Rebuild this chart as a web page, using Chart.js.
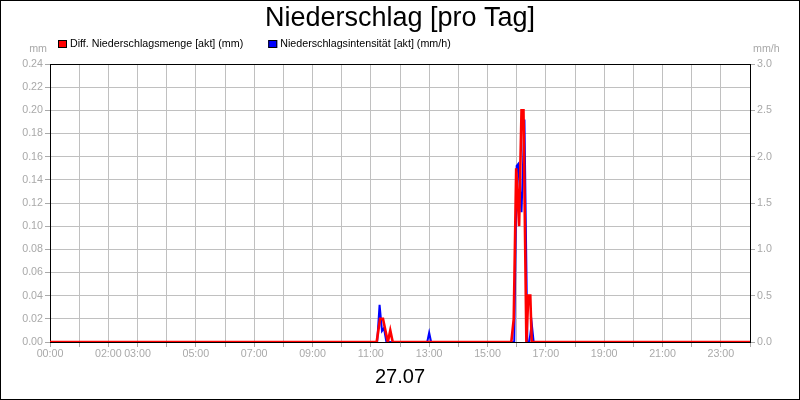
<!DOCTYPE html>
<html>
<head>
<meta charset="utf-8">
<script src="https://cdn.jsdelivr.net/npm/chart.js@4/dist/chart.umd.min.js"></script>
<style>
html, body { margin: 0; padding: 0; background: #fff; }
#rahmen { width: 800px; height: 400px; }
</style>
</head>
<body>
<div id="rahmen"><canvas id="graficaNiederschlag"></canvas></div>
<script>
var colorRojo = "#ff0000";
var colorAzul = "#0000ff";
var colorGris = "#a9a9a9";
var colorRejilla = "#c0c0c0";
var fuente = '"Liberation Sans", Arial, sans-serif';

var titulo = "Niederschlag [pro Tag]";
var fecha = "27.07";

// Minuten seit 00:00
var zeitMenge = [0, 672, 679, 685, 690, 695, 700, 705, 949, 954, 959, 965, 970, 974, 980, 984, 988, 991, 1440];
var werteMenge = [0, 0, 0.02, 0.02, 0.01, 0, 0.01, 0, 0, 0.02, 0.15, 0.10, 0.20, 0.20, 0, 0.04, 0.04, 0, 0];

var zeitIntensitaet = [0, 673, 678, 683, 687, 692, 776, 780, 784, 955, 960, 963, 970, 976, 982, 986, 991, 995, 1440];
var werteIntensitaet = [0, 0, 0.40, 0.12, 0.15, 0, 0, 0.10, 0, 0, 1.90, 1.92, 1.40, 2.40, 0, 0, 0.20, 0, 0];

// beschriftete Stunden der x-Achse
var stundenBeschriftet = [0, 2, 3, 5, 7, 9, 11, 13, 15, 17, 19, 21, 23];

function punkte(zeiten, werte) {
    return zeiten.map(function (t, i) { return { x: t, y: werte[i] }; });
}

var rahmenPlugin = {
    id: 'rahmen',
    beforeDatasetsDraw: function (chart) {
        var ctx = chart.ctx, a = chart.chartArea;
        ctx.save();
        ctx.strokeStyle = "#000";
        ctx.lineWidth = 1;
        ctx.beginPath();
        ctx.moveTo(a.left, Math.round(a.top) + 0.5);
        ctx.lineTo(a.right, Math.round(a.top) + 0.5);
        ctx.stroke();
        ctx.restore();
    },
    afterDraw: function (chart) {
        var ctx = chart.ctx, a = chart.chartArea;
        ctx.save();
        ctx.font = '10.7px ' + fuente;
        ctx.textBaseline = 'middle';
        ctx.fillStyle = colorGris;
        ctx.textAlign = 'right';
        ctx.fillText('mm', a.left - 3, 49);
        ctx.textAlign = 'left';
        ctx.fillText('mm/h', a.right + 3, 49);

        // Legende
        var x = 58;
        chart.data.datasets.forEach(function (ds) {
            ctx.fillStyle = ds.borderColor;
            ctx.fillRect(x, 40, 9, 8);
            ctx.strokeStyle = "#000";
            ctx.lineWidth = 1;
            ctx.strokeRect(x + 0.5, 40.5, 8, 7);
            ctx.fillStyle = "#000";
            ctx.textAlign = 'left';
            ctx.fillText(ds.label, x + 12, 44.5);
            x += 12 + ctx.measureText(ds.label).width + 25;
        });

        ctx.strokeStyle = "#000";
        ctx.strokeRect(0.5, 0.5, chart.width - 1, chart.height - 1);
        ctx.restore();
    }
};

var configuracion = {
    type: 'line',
    data: {
        datasets: [{
            label: 'Diff. Niederschlagsmenge [akt] (mm)',
            data: punkte(zeitMenge, werteMenge),
            borderColor: colorRojo,
            backgroundColor: colorRojo,
            borderWidth: 2.6,
            pointRadius: 0,
            tension: 0,
            yAxisID: 'y'
        }, {
            label: 'Niederschlagsintensität [akt] (mm/h)',
            data: punkte(zeitIntensitaet, werteIntensitaet),
            borderColor: colorAzul,
            backgroundColor: colorAzul,
            borderWidth: 2,
            pointRadius: 0,
            tension: 0,
            yAxisID: 'y1'
        }]
    },
    options: {
        responsive: true,
        maintainAspectRatio: false,
        animation: false,
        layout: { padding: 0 },
        plugins: {
            legend: { display: false },
            tooltip: { enabled: false },
            title: {
                display: true,
                text: titulo,
                color: "#000",
                font: { family: fuente, size: 27, weight: 'normal' },
                padding: { top: 2, bottom: 29.6 }
            }
        },
        scales: {
            x: {
                type: 'linear',
                min: 0,
                max: 1440,
                ticks: {
                    stepSize: 60,
                    autoSkip: false,
                    maxRotation: 0,
                    color: colorGris,
                    font: { family: fuente, size: 10.7 },
                    padding: 1,
                    callback: function (v) {
                        var h = v / 60;
                        if (stundenBeschriftet.indexOf(h) < 0) return '';
                        return (h < 10 ? '0' : '') + h + ':00';
                    }
                },
                grid: { color: colorRejilla, tickColor: colorGris, tickLength: 5 },
                border: { color: "#000" },
                title: {
                    display: true,
                    text: fecha,
                    color: "#000",
                    font: { family: fuente, size: 20 },
                    padding: { top: 0, bottom: 11 }
                },
                afterFit: function (s) { s.height = 58; }
            },
            y: {
                position: 'left',
                min: 0,
                max: 0.24,
                ticks: {
                    stepSize: 0.02,
                    color: colorGris,
                    font: { family: fuente, size: 10.7 },
                    padding: 2,
                    callback: function (v) { return v.toFixed(2); }
                },
                grid: { color: colorRejilla, tickColor: colorGris, tickLength: 5 },
                border: { color: "#000" },
                afterFit: function (s) { s.width = 50; }
            },
            y1: {
                position: 'right',
                min: 0,
                max: 3,
                ticks: {
                    stepSize: 0.5,
                    color: colorGris,
                    font: { family: fuente, size: 10.7 },
                    padding: 2,
                    callback: function (v) { return v.toFixed(1); }
                },
                grid: { drawOnChartArea: false, tickColor: colorGris, tickLength: 5 },
                border: { color: "#000" },
                afterFit: function (s) { s.width = 50; }
            }
        }
    },
    plugins: [rahmenPlugin]
};

var graficaNiederschlag = new Chart(
    document.getElementById('graficaNiederschlag'),
    configuracion
);
</script>
</body>
</html>
